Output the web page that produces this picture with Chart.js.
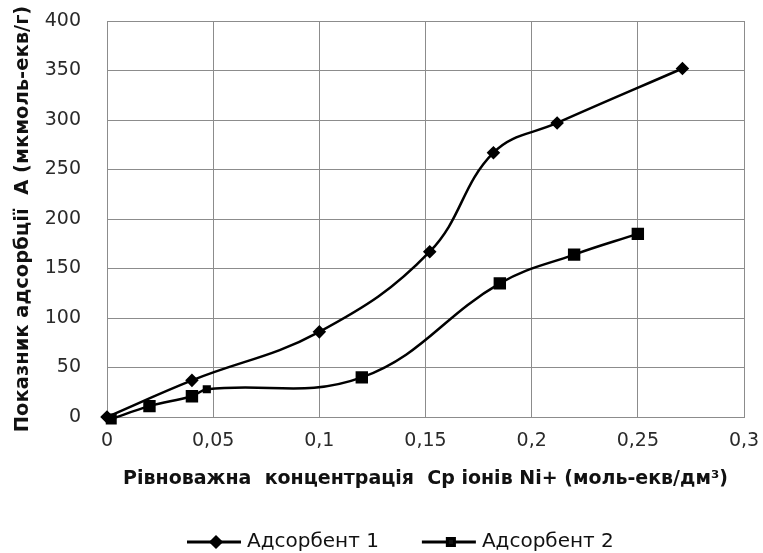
<!DOCTYPE html>
<html>
<head>
<meta charset="utf-8">
<script src="https://cdn.jsdelivr.net/npm/chart.js@4"></script>
<style>
  html, body { margin: 0; padding: 0; background: #fff; }
  #wrap { width: 763px; height: 553px; }
</style>
</head>
<body>
<div id="wrap"><canvas id="c" width="763" height="553"></canvas></div>
<script>
// дані з графіка
const conc1 = [0, 0.04, 0.1, 0.152, 0.182, 0.212, 0.271];
const ads1 = [0, 37, 86, 167, 267, 297, 352];
const conc2 = [0.002, 0.02, 0.04, 0.047, 0.12, 0.185, 0.22, 0.25];
const ads2 = [-2, 11, 21, 28, 40, 135, 164, 185];
const seriesNames = ["Адсорбент 1", "Адсорбент 2"];
const xTitle = "Рівноважна  концентрація  Ср іонів Ni+ (моль-екв/дм³)";
const yTitle = "Показник адсорбції  А (мкмоль-екв/г)";

const FONT = "'DejaVu Sans', sans-serif";
const toPts = (xs, ys) => xs.map((x, i) => ({ x, y: ys[i] }));

// легенда з лінією та маркером, як в Excel
const lineLegend = {
  id: "lineLegend",
  afterDraw(chart) {
    const ctx = chart.ctx;
    const y = 542;
    ctx.save();
    ctx.font = "20px " + FONT;
    let x = 187;
    chart.data.datasets.forEach((ds) => {
      ctx.strokeStyle = "#000";
      ctx.lineWidth = 3;
      ctx.beginPath();
      ctx.moveTo(x, y);
      ctx.lineTo(x + 54, y);
      ctx.stroke();
      Chart.helpers.drawPoint(ctx, {
        pointStyle: ds.pointStyle,
        radius: 5,
        borderWidth: 1,
      }, x + 29, y);
      ctx.fillStyle = "#111";
      ctx.textBaseline = "middle";
      ctx.textAlign = "left";
      ctx.fillText(ds.label, x + 60, y);
      x += 60 + ctx.measureText(ds.label).width + 43;
    });
    ctx.restore();
  },
};

new Chart(document.getElementById("c"), {
  type: "scatter",
  data: {
    datasets: [
      {
        label: seriesNames[0],
        data: toPts(conc1, ads1),
        showLine: true,
        tension: 0.4,
        borderColor: "#000",
        backgroundColor: "#000",
        borderWidth: 2.5,
        pointStyle: "rectRot",
        pointRadius: 5,
        pointBackgroundColor: "#000",
        pointBorderColor: "#000",
        clip: false,
      },
      {
        label: seriesNames[1],
        data: toPts(conc2, ads2),
        showLine: true,
        tension: 0.4,
        borderColor: "#000",
        backgroundColor: "#000",
        borderWidth: 2.5,
        pointStyle: "rect",
        pointRadius: [6, 7, 7, 4, 7, 7, 7, 7],
        pointBackgroundColor: "#000",
        pointBorderColor: "#000",
        clip: false,
      },
    ],
  },
  options: {
    responsive: false,
    animation: false,
    layout: { padding: { left: 0, top: 21, right: 19, bottom: 56 } },
    plugins: {
      legend: { display: false },
      tooltip: { enabled: false },
    },
    scales: {
      x: {
        type: "linear",
        min: 0,
        max: 0.3,
        ticks: {
          stepSize: 0.05,
          color: "#2a2a2a",
          padding: 13,
          font: { family: FONT, size: 19 },
          callback: (v) => String(Math.round(v * 100) / 100).replace(".", ","),
        },
        grid: { color: "#8c8c8c", lineWidth: 1, drawTicks: false },
        border: { color: "#8c8c8c", width: 1 },
        title: {
          display: true,
          text: xTitle,
          color: "#111",
          font: { family: FONT, size: 19, weight: "bold" },
          padding: { top: 0, bottom: 7 },
        },
        afterFit: (scale) => {
          scale.height = 80;
          scale.paddingLeft = 0;
          scale.paddingRight = 0;
        },
      },
      y: {
        min: 0,
        max: 400,
        ticks: {
          stepSize: 50,
          color: "#2a2a2a",
          padding: 26,
          font: { family: FONT, size: 19 },
        },
        grid: { color: "#8c8c8c", lineWidth: 1, drawTicks: false },
        border: { color: "#8c8c8c", width: 1 },
        title: {
          display: true,
          text: yTitle,
          color: "#111",
          font: { family: FONT, size: 19.5, weight: "bold" },
          padding: { top: 11, bottom: 0 },
        },
        afterFit: (scale) => {
          scale.width = 107;
          scale.paddingTop = 0;
          scale.paddingBottom = 0;
        },
      },
    },
  },
  plugins: [lineLegend],
});
</script>
</body>
</html>
